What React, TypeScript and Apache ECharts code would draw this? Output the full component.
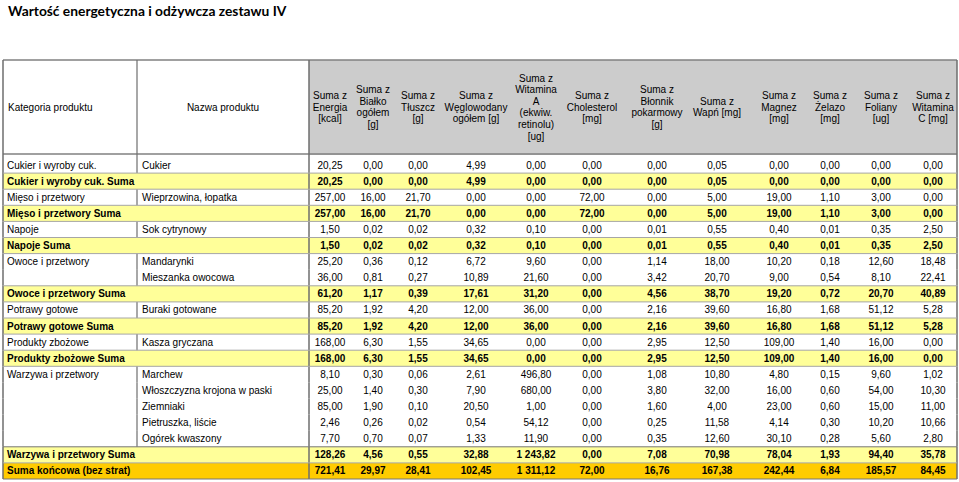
import React, { useEffect, useRef } from "react";
import * as echarts from "echarts";

const chartTitle = "Wartość energetyczna i odżywcza zestawu IV";
const headerCategory = "Kategoria produktu";
const headerName = "Nazwa produktu";
const valueHeaders = [
  "Suma z\nEnergia\n[kcal]",
  "Suma z\nBiałko\nogółem\n[g]",
  "Suma z\nTłuszcz\n[g]",
  "Suma z\nWęglowodany\nogółem [g]",
  "Suma z\nWitamina\nA\n(ekwiw.\nretinolu)\n[ug]",
  "Suma z\nCholesterol\n[mg]",
  "Suma z\nBłonnik\npokarmowy\n[g]",
  "Suma z\nWapń [mg]",
  "Suma z\nMagnez\n[mg]",
  "Suma z\nŻelazo\n[mg]",
  "Suma z\nFoliany\n[ug]",
  "Suma z\nWitamina\nC [mg]",
];

const rowKinds = [
  "item", "sum", "item", "sum", "item", "sum", "item", "item", "sum", "item",
  "sum", "item", "sum", "item", "item", "item", "item", "item", "sum", "total",
];
const categories = [
  "Cukier i wyroby cuk.", "Cukier i wyroby cuk. Suma",
  "Mięso i przetwory", "Mięso i przetwory Suma",
  "Napoje", "Napoje Suma",
  "Owoce i przetwory", "", "Owoce i przetwory Suma",
  "Potrawy gotowe", "Potrawy gotowe Suma",
  "Produkty zbożowe", "Produkty zbożowe Suma",
  "Warzywa i przetwory", "", "", "", "", "Warzywa i przetwory Suma",
  "Suma końcowa (bez strat)",
];
const productNames = [
  "Cukier", "", "Wieprzowina, łopatka", "", "Sok cytrynowy", "",
  "Mandarynki", "Mieszanka owocowa", "", "Buraki gotowane", "",
  "Kasza gryczana", "", "Marchew", "Włoszczyzna krojona w paski", "Ziemniaki",
  "Pietruszka, liście", "Ogórek kwaszony", "", "",
];

const energia = [20.25, 20.25, 257.0, 257.0, 1.5, 1.5, 25.2, 36.0, 61.2, 85.2, 85.2, 168.0, 168.0, 8.1, 25.0, 85.0, 2.46, 7.7, 128.26, 721.41];
const bialko = [0.0, 0.0, 16.0, 16.0, 0.02, 0.02, 0.36, 0.81, 1.17, 1.92, 1.92, 6.3, 6.3, 0.3, 1.4, 1.9, 0.26, 0.7, 4.56, 29.97];
const tluszcz = [0.0, 0.0, 21.7, 21.7, 0.02, 0.02, 0.12, 0.27, 0.39, 4.2, 4.2, 1.55, 1.55, 0.06, 0.3, 0.1, 0.02, 0.07, 0.55, 28.41];
const weglowodany = [4.99, 4.99, 0.0, 0.0, 0.32, 0.32, 6.72, 10.89, 17.61, 12.0, 12.0, 34.65, 34.65, 2.61, 7.9, 20.5, 0.54, 1.33, 32.88, 102.45];
const witaminaA = [0.0, 0.0, 0.0, 0.0, 0.1, 0.1, 9.6, 21.6, 31.2, 36.0, 36.0, 0.0, 0.0, 496.8, 680.0, 1.0, 54.12, 11.9, 1243.82, 1311.12];
const cholesterol = [0.0, 0.0, 72.0, 72.0, 0.0, 0.0, 0.0, 0.0, 0.0, 0.0, 0.0, 0.0, 0.0, 0.0, 0.0, 0.0, 0.0, 0.0, 0.0, 72.0];
const blonnik = [0.0, 0.0, 0.0, 0.0, 0.01, 0.01, 1.14, 3.42, 4.56, 2.16, 2.16, 2.95, 2.95, 1.08, 3.8, 1.6, 0.25, 0.35, 7.08, 16.76];
const wapn = [0.05, 0.05, 5.0, 5.0, 0.55, 0.55, 18.0, 20.7, 38.7, 39.6, 39.6, 12.5, 12.5, 10.8, 32.0, 4.0, 11.58, 12.6, 70.98, 167.38];
const magnez = [0.0, 0.0, 19.0, 19.0, 0.4, 0.4, 10.2, 9.0, 19.2, 16.8, 16.8, 109.0, 109.0, 4.8, 16.0, 23.0, 4.14, 30.1, 78.04, 242.44];
const zelazo = [0.0, 0.0, 1.1, 1.1, 0.01, 0.01, 0.18, 0.54, 0.72, 1.68, 1.68, 1.4, 1.4, 0.15, 0.6, 0.6, 0.3, 0.28, 1.93, 6.84];
const foliany = [0.0, 0.0, 3.0, 3.0, 0.35, 0.35, 12.6, 8.1, 20.7, 51.12, 51.12, 16.0, 16.0, 9.6, 54.0, 15.0, 10.2, 5.6, 94.4, 185.57];
const witaminaC = [0.0, 0.0, 0.0, 0.0, 2.5, 2.5, 18.48, 22.41, 40.89, 5.28, 5.28, 0.0, 0.0, 1.02, 10.3, 11.0, 10.66, 2.8, 35.78, 84.45];

const valueColumns = [energia, bialko, tluszcz, weglowodany, witaminaA, cholesterol, blonnik, wapn, magnez, zelazo, foliany, witaminaC];

// layout (pixels)
const W = 959;
const H = 482;
const TABLE_LEFT = 3;
const TABLE_RIGHT = 957;
const COL_NAME_X = 137;
const COL_VALUES_X = 309;
const HEADER_TOP = 60;
const HEADER_BOTTOM = 155;
const BODY_TOP = 157;
const BODY_BOTTOM = 479;
const VALUE_X = [330, 373, 418, 476, 536, 592, 657, 717, 779, 830, 881, 933];

const FONT = "'Liberation Sans', Arial, sans-serif";
const SIZE = 10;

function fmt(v: number): string {
  const [i, d] = v.toFixed(2).split(".");
  return i.replace(/\B(?=(\d{3})+(?!\d))/g, " ") + "," + d;
}

export default function App() {
  const ref = useRef<HTMLDivElement>(null);
  useEffect(() => {
    if (!ref.current) return;
    const chart = echarts.init(ref.current, undefined, { renderer: "svg" });

    const headerGraphics: any[] = [
      { type: "rect", shape: { x: COL_VALUES_X, y: HEADER_TOP, width: TABLE_RIGHT - COL_VALUES_X, height: HEADER_BOTTOM - HEADER_TOP }, style: { fill: "#cccccc" }, z: 1 },
      { type: "line", shape: { x1: TABLE_LEFT, y1: HEADER_TOP, x2: TABLE_RIGHT, y2: HEADER_TOP }, style: { stroke: "#808080", lineWidth: 1.5 }, z: 5 },
      { type: "line", shape: { x1: TABLE_LEFT, y1: HEADER_BOTTOM - 1, x2: TABLE_RIGHT, y2: HEADER_BOTTOM - 1 }, style: { stroke: "#808080", lineWidth: 1.5 }, z: 5 },
      { type: "line", shape: { x1: TABLE_LEFT, y1: HEADER_TOP, x2: TABLE_LEFT, y2: BODY_TOP }, style: { stroke: "#6e6e6e", lineWidth: 1.5 }, z: 5 },
      { type: "line", shape: { x1: TABLE_RIGHT, y1: HEADER_TOP, x2: TABLE_RIGHT, y2: BODY_TOP }, style: { stroke: "#6e6e6e", lineWidth: 1.5 }, z: 5 },
      { type: "line", shape: { x1: COL_NAME_X, y1: HEADER_TOP, x2: COL_NAME_X, y2: BODY_TOP }, style: { stroke: "#6e6e6e", lineWidth: 1.2 }, z: 5 },
      { type: "line", shape: { x1: COL_VALUES_X, y1: HEADER_TOP, x2: COL_VALUES_X, y2: BODY_TOP }, style: { stroke: "#6e6e6e", lineWidth: 1.5 }, z: 5 },
      { type: "text", x: 8, y: 107, style: { text: headerCategory, font: `${SIZE}px ${FONT}`, fill: "#000", align: "left", verticalAlign: "middle" }, z: 6 },
      { type: "text", x: (COL_NAME_X + COL_VALUES_X) / 2, y: 107, style: { text: headerName, font: `${SIZE}px ${FONT}`, fill: "#000", align: "center", verticalAlign: "middle" }, z: 6 },
      ...valueHeaders.map((t, c) => ({
        type: "text",
        x: VALUE_X[c],
        y: 107,
        style: { text: t, font: `${SIZE}px ${FONT}`, fill: "#000", align: "center", verticalAlign: "middle", lineHeight: 11.6 },
        z: 6,
      })),
    ];

    const option: any = {
      animation: false,
      title: {
        text: chartTitle,
        left: 8,
        top: 3,
        padding: 0,
        textStyle: { fontFamily: "Lato", fontWeight: "bold", fontSize: 13.8, color: "#000" },
      },
      grid: { left: 0, right: 0, top: BODY_TOP, bottom: H - BODY_BOTTOM },
      xAxis: { type: "value", min: 0, max: W, show: false },
      yAxis: { type: "category", data: rowKinds.map((_, i) => String(i)), inverse: true, show: false },
      graphic: { elements: headerGraphics },
      series: [
        {
          type: "custom",
          data: rowKinds.map((_, i) => [0, i]),
          encode: { x: 0, y: 1 },
          renderItem: (params: any, api: any) => {
            const i = api.value(1);
            const yc = api.coord([0, i])[1];
            const h = api.size([0, 1])[1];
            const top = yc - h / 2;
            const bottom = yc + h / 2;
            const X = (px: number) => api.coord([px, i])[0];
            const kind = rowKinds[i];
            const bold = kind !== "item";
            const font = `${bold ? "bold " : ""}${SIZE}px ${FONT}`;
            const children: any[] = [];
            if (kind !== "item") {
              children.push({
                type: "rect",
                shape: { x: X(TABLE_LEFT), y: top, width: X(TABLE_RIGHT) - X(TABLE_LEFT), height: h },
                style: { fill: kind === "sum" ? "#ffff99" : "#ffcc00" },
                z2: 0,
              });
            }
            if (categories[i]) {
              children.push({ type: "text", x: X(7), y: yc, style: { text: categories[i], font, fill: "#000", align: "left", verticalAlign: "middle" }, z2: 20 });
            }
            if (productNames[i]) {
              children.push({ type: "text", x: X(142), y: yc, style: { text: productNames[i], font, fill: "#000", align: "left", verticalAlign: "middle" }, z2: 20 });
            }
            valueColumns.forEach((col, c) => {
              children.push({ type: "text", x: X(VALUE_X[c]), y: yc, style: { text: fmt(col[i]), font, fill: "#000", align: "center", verticalAlign: "middle" }, z2: 20 });
            });
            const vx = [TABLE_LEFT, COL_VALUES_X, TABLE_RIGHT];
            if (kind === "item") vx.push(COL_NAME_X);
            vx.forEach((x) => {
              children.push({
                type: "line",
                shape: { x1: X(x), y1: top, x2: X(x), y2: bottom },
                style: { stroke: "#6e6e6e", lineWidth: x === COL_NAME_X ? 1.2 : 1.5 },
                z2: 10,
              });
            });
            const next = rowKinds[i + 1];
            if (kind !== "item" || next === undefined || next !== "item") {
              const dark = next === "sum" && i === 17;
              children.push({
                type: "line",
                shape: { x1: X(TABLE_LEFT), y1: bottom, x2: X(TABLE_RIGHT), y2: bottom },
                style: { stroke: dark || next === undefined ? "#777777" : "#a6a6a6", lineWidth: 1 },
                z2: 12,
              });
            }
            return { type: "group", children };
          },
        },
      ],
    };
    chart.setOption(option);
    return () => chart.dispose();
  }, []);
  return <div ref={ref} style={{ position: "fixed", left: 0, top: 0, width: W, height: H, background: "#fff" }} />;
}
